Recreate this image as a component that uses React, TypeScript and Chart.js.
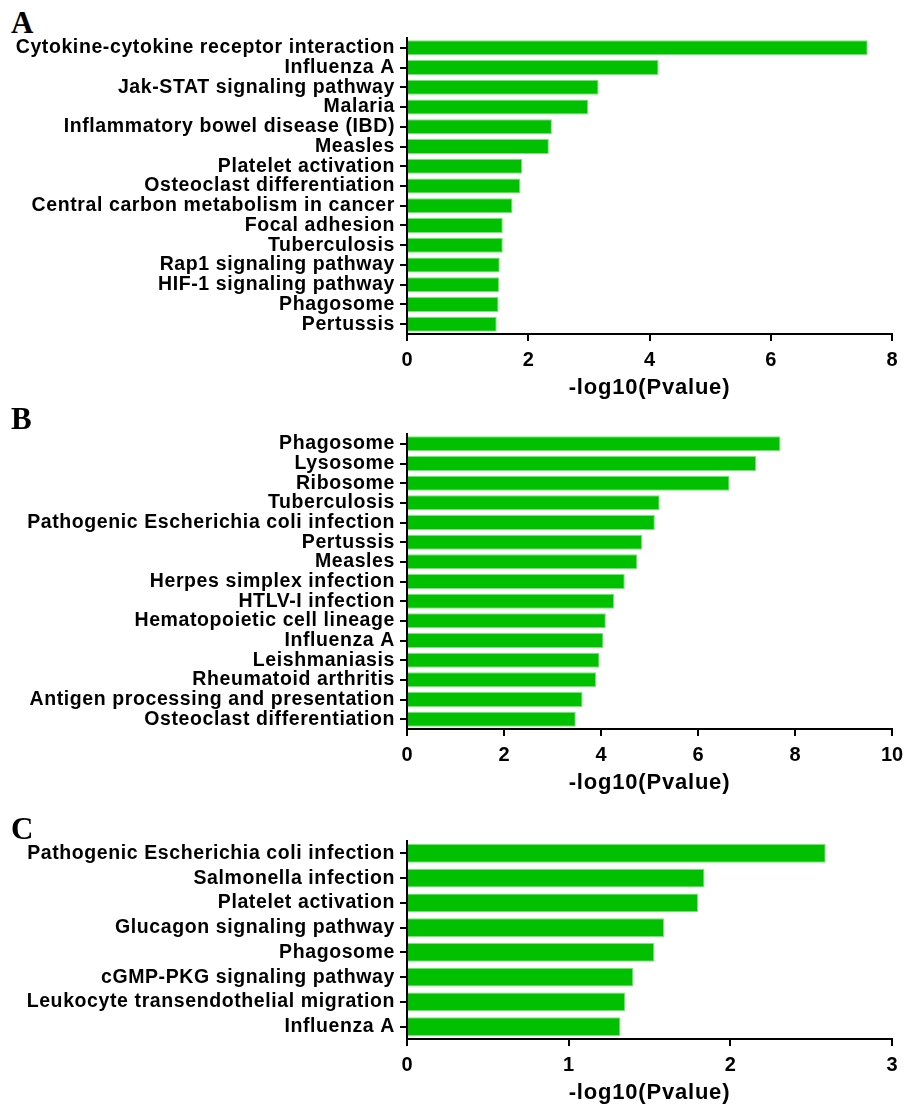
import React, { useEffect, useRef } from "react";
import { Chart, registerables } from "chart.js";

Chart.register(...registerables);

// Panel A
const pathwaysA = [
  "Cytokine-cytokine receptor interaction",
  "Influenza A",
  "Jak-STAT signaling pathway",
  "Malaria",
  "Inflammatory bowel disease (IBD)",
  "Measles",
  "Platelet activation",
  "Osteoclast differentiation",
  "Central carbon metabolism in cancer",
  "Focal adhesion",
  "Tuberculosis",
  "Rap1 signaling pathway",
  "HIF-1 signaling pathway",
  "Phagosome",
  "Pertussis",
];
const scoresA = [7.6, 4.15, 3.16, 2.99, 2.39, 2.34, 1.9, 1.87, 1.74, 1.58, 1.58, 1.53, 1.52, 1.51, 1.48];

// Panel B
const pathwaysB = [
  "Phagosome",
  "Lysosome",
  "Ribosome",
  "Tuberculosis",
  "Pathogenic Escherichia coli infection",
  "Pertussis",
  "Measles",
  "Herpes simplex infection",
  "HTLV-I infection",
  "Hematopoietic cell lineage",
  "Influenza A",
  "Leishmaniasis",
  "Rheumatoid arthritis",
  "Antigen processing and presentation",
  "Osteoclast differentiation",
];
const scoresB = [7.7, 7.2, 6.65, 5.21, 5.11, 4.85, 4.75, 4.49, 4.27, 4.1, 4.05, 3.97, 3.9, 3.62, 3.48];

// Panel C
const pathwaysC = [
  "Pathogenic Escherichia coli infection",
  "Salmonella infection",
  "Platelet activation",
  "Glucagon signaling pathway",
  "Phagosome",
  "cGMP-PKG signaling pathway",
  "Leukocyte transendothelial migration",
  "Influenza A",
];
const scoresC = [2.59, 1.84, 1.8, 1.59, 1.53, 1.4, 1.35, 1.32];

// x-axis ranges
const xMaxA = 8;
const xStepA = 2;
const xMaxB = 10;
const xStepB = 2;
const xMaxC = 3;
const xStepC = 1;

const axisTitle = "-log10(Pvalue)";

const FONT = "'Liberation Sans', Arial, Helvetica, sans-serif";
const BAR_FILL = "#00c000";
const BAR_EDGE = "#80e080";

type PanelProps = {
  letter: string;
  letterTop: number;
  labels: string[];
  values: number[];
  xMax: number;
  xStep: number;
  areaTop: number; // page y of the plot area top
  axisY: number; // page y of the x-axis line
  barPct: number;
};

const AXIS_LEFT = 407;
const AXIS_RIGHT = 892;
const BELOW_AXIS = 76;

// Wraps one of a scale's draw methods so its text is drawn with extra tracking.
function withTracking(scale: any, method: string, spacing: string) {
  const key = "__tracked_" + method;
  if (scale[key]) return;
  const orig = scale[method].bind(scale);
  scale[method] = (...args: any[]) => {
    const ctx = scale.ctx as any;
    const prev = ctx.letterSpacing;
    ctx.letterSpacing = spacing;
    orig(...args);
    ctx.letterSpacing = prev;
  };
  scale[key] = true;
}

function Panel({ letter, letterTop, labels, values, xMax, xStep, areaTop, axisY, barPct }: PanelProps) {
  const ref = useRef<HTMLCanvasElement | null>(null);
  const canvasTop = areaTop - 10;
  const height = axisY + BELOW_AXIS - canvasTop;

  useEffect(() => {
    if (!ref.current) return;
    const chart = new Chart(ref.current, {
      type: "bar",
      data: {
        labels,
        datasets: [
          {
            data: values,
            backgroundColor: BAR_FILL,
            borderColor: BAR_EDGE,
            borderWidth: 1,
            categoryPercentage: 1,
            barPercentage: barPct,
          },
        ],
      },
      options: {
        indexAxis: "y",
        responsive: false,
        animation: false,
        layout: { padding: { top: 10, bottom: 0, left: 0, right: 922 - AXIS_RIGHT } },
        plugins: { legend: { display: false }, tooltip: { enabled: false } },
        scales: {
          y: {
            type: "category",
            offset: true,
            afterFit: (s: any) => {
              s.width = AXIS_LEFT;
              s.paddingTop = 0;
              s.paddingBottom = 0;
              withTracking(s, "drawLabels", "0.6px");
            },
            grid: {
              offset: false,
              drawOnChartArea: false,
              drawTicks: true,
              tickLength: 7,
              color: "#000",
              lineWidth: 2,
            },
            border: { display: true, color: "#000", width: 2 },
            ticks: {
              color: "#000",
              padding: 5,
              autoSkip: false,
              font: { family: FONT, size: 19.5, weight: "bold" },
            },
          },
          x: {
            type: "linear",
            min: 0,
            max: xMax,
            afterFit: (s: any) => {
              s.height = BELOW_AXIS;
              s.paddingLeft = 0;
              withTracking(s, "drawTitle", "0.8px");
            },
            grid: {
              drawOnChartArea: false,
              drawTicks: true,
              tickLength: 7,
              color: "#000",
              lineWidth: 2,
            },
            border: { display: true, color: "#000", width: 2 },
            ticks: {
              stepSize: xStep,
              color: "#000",
              padding: 7,
              font: { family: FONT, size: 20, weight: "bold" },
            },
            title: {
              display: true,
              text: axisTitle,
              color: "#000",
              padding: { top: 0, bottom: 9 },
              font: { family: FONT, size: 22, weight: "bold" },
            },
          },
        },
      },
    } as any);
    return () => chart.destroy();
  }, []);

  return (
    <>
      <div
        style={{
          position: "absolute",
          left: 11,
          top: letterTop,
          fontFamily: "'Liberation Serif', 'Times New Roman', serif",
          fontWeight: "bold",
          fontSize: 31,
          lineHeight: "31px",
          color: "#000",
        }}
      >
        {letter}
      </div>
      <canvas
        ref={ref}
        width={922}
        height={height}
        style={{ position: "absolute", left: 0, top: canvasTop, width: 922, height }}
      />
    </>
  );
}

export default function App() {
  return (
    <div
      style={{
        position: "absolute",
        left: 0,
        top: 0,
        width: 922,
        height: 1106,
        background: "#fff",
        overflow: "hidden",
      }}
    >
      <Panel letter="A" letterTop={6.5} labels={pathwaysA} values={scoresA} xMax={xMaxA} xStep={xStepA} areaTop={38.4} axisY={334.4} barPct={0.76} />
      <Panel letter="B" letterTop={402.5} labels={pathwaysB} values={scoresB} xMax={xMaxB} xStep={xStepB} areaTop={433.5} axisY={729.3} barPct={0.76} />
      <Panel letter="C" letterTop={812.5} labels={pathwaysC} values={scoresC} xMax={xMaxC} xStep={xStepC} areaTop={840.9} axisY={1039.3} barPct={0.75} />
    </div>
  );
}
